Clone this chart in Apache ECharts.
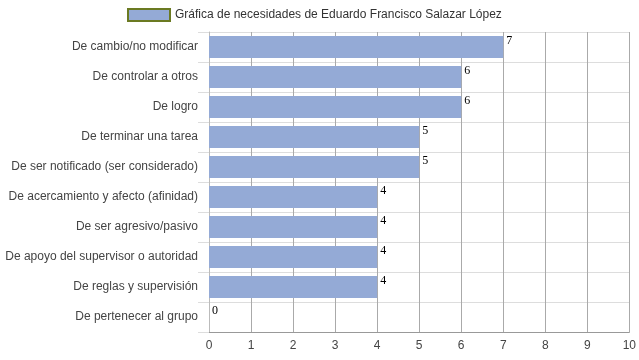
<!DOCTYPE html>
<html><head><meta charset="utf-8">
<script src="https://cdn.jsdelivr.net/npm/echarts@6/dist/echarts.min.js"></script>
<style>html,body{margin:0;padding:0;background:#fff}#c{width:639px;height:360px}</style>
</head><body><div id="c"></div>
<script>
const categories = ["De cambio/no modificar","De controlar a otros","De logro","De terminar una tarea","De ser notificado (ser considerado)","De acercamiento y afecto (afinidad)","De ser agresivo/pasivo","De apoyo del supervisor o autoridad","De reglas y supervisión","De pertenecer al grupo"];
const values = [7,6,6,5,5,4,4,4,4,0];
const seriesName = "Gráfica de necesidades de Eduardo Francisco Salazar López";
const chart = echarts.init(document.getElementById('c'));
chart.setOption({
  animation:false,
  textStyle:{fontFamily:'Liberation Sans, Arial, sans-serif'},
  legend:{top:3,left:122,itemWidth:42,itemHeight:12,itemGap:5,icon:'rect',
    textStyle:{color:'#333',fontSize:12},
    data:[{name:seriesName,itemStyle:{color:'#94aad6',borderColor:'#6b7a22',borderWidth:2}}]},
  grid:{left:209,right:9,top:32,bottom:28},
  xAxis:{type:'value',min:0,max:10,interval:1,
    axisLine:{show:true,lineStyle:{color:'#999'}},axisTick:{show:false},
    axisLabel:{color:'#444',fontSize:12,margin:8},
    splitLine:{lineStyle:{color:'#aaa'}}},
  yAxis:{type:'category',inverse:true,data:categories,
    axisLine:{show:true,lineStyle:{color:'#bbb'}},
    axisTick:{show:true,length:11,lineStyle:{color:'#ddd'}},
    axisLabel:{color:'#444',fontSize:12,margin:11},
    splitLine:{show:true,lineStyle:{color:'#ddd'}}},
  series:[{name:seriesName,type:'bar',data:values,barWidth:22,
    itemStyle:{color:'#94aad6'},
    label:{show:true,position:'right',distance:3,offset:[0,-6],color:'#000',fontFamily:'Liberation Serif, Times New Roman, serif',fontSize:12}}]
});
</script></body></html>
